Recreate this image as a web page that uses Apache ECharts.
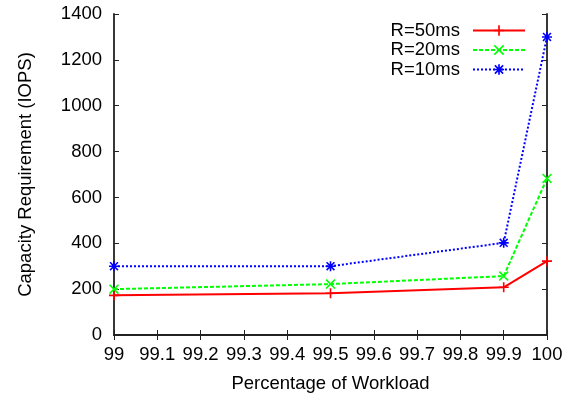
<!DOCTYPE html>
<html>
<head>
<meta charset="utf-8">
<script src="https://cdn.jsdelivr.net/npm/echarts@6/dist/echarts.min.js"></script>
<style>html,body{margin:0;padding:0;background:#fff}#c{width:574px;height:398px}</style>
</head>
<body>
<div id="c"></div>
<script>
const xValues = [99, 99.5, 99.9, 100];
const seriesNames = ['R=50ms', 'R=20ms', 'R=10ms'];
const r50 = [173, 182, 208, 322];
const r20 = [200, 222, 257, 683];
const r10 = [300, 300, 402, 1300];

const FONT = '"Liberation Sans", Arial, sans-serif';
const FS = 18.5;
const PLUS = 'path://M0,4.2H10V5.8H0Z M4.2,0H5.8V10H4.2Z';
const CROSS = 'path://M0,1.1L1.1,0L10,8.9L8.9,10Z M8.9,0L10,1.1L1.1,10L0,8.9Z';
const STAR = 'path://M0,4.2H10V5.8H0Z M4.2,0H5.8V10H4.2Z M0.5,1.6L1.6,0.5L9.5,8.4L8.4,9.5Z M8.4,0.5L9.5,1.6L1.6,9.5L0.5,8.4Z';

function pairs(ys){ return xValues.map((x,i)=>[x, ys[i]]); }
const fmt = v => String(Math.round(v*10)/10);

const axisLine = {show:true, lineStyle:{color:'#222', width:1.8}};
const tick = {show:true, inside:true, length:5, lineStyle:{color:'#222', width:1}};

const chart = echarts.init(document.getElementById('c'));
chart.setOption({
  animation:false,
  backgroundColor:'#fff',
  textStyle:{fontFamily:FONT},
  grid:{left:114, right:27, top:14, bottom:61, containLabel:false},
  legend:{
    orient:'vertical', right:43, top:16, align:'right',
    itemWidth:52, itemHeight:13, itemGap:0.5,
    textStyle:{fontFamily:FONT, fontSize:FS, color:'#000', padding:[0,8,0,0]},
    data:seriesNames
  },
  xAxis:[
    {type:'value', min:99, max:100, interval:0.1, position:'bottom',
     axisLine:axisLine, axisTick:tick, splitLine:{show:false},
     axisLabel:{fontFamily:FONT, fontSize:FS, color:'#000', margin:10, formatter:fmt},
     name:'Percentage of Workload', nameLocation:'middle', nameGap:39,
     nameTextStyle:{fontFamily:FONT, fontSize:FS, color:'#000'}},
    {type:'value', min:99, max:100, interval:0.1, position:'top',
     axisLine:axisLine, axisTick:tick, splitLine:{show:false}, axisLabel:{show:false}}
  ],
  yAxis:[
    {type:'value', min:0, max:1400, interval:200, position:'left',
     axisLine:axisLine, axisTick:tick, splitLine:{show:false},
     axisLabel:{fontFamily:FONT, fontSize:FS, color:'#000', margin:12, formatter:v=>String(v)},
     name:'Capacity Requirement (IOPS)', nameLocation:'middle', nameGap:79,
     nameTextStyle:{fontFamily:FONT, fontSize:FS, color:'#000'}},
    {type:'value', min:0, max:1400, interval:200, position:'right',
     axisLine:axisLine, axisTick:tick, splitLine:{show:false}, axisLabel:{show:false}}
  ],
  series:[
    {name:seriesNames[0], type:'line', data:pairs(r50), symbol:PLUS, symbolSize:10, clip:false,
     color:'#ff0000', lineStyle:{color:'#ff0000', width:2, type:'solid'}, itemStyle:{color:'#ff0000'}},
    {name:seriesNames[1], type:'line', data:pairs(r20), symbol:CROSS, symbolSize:10, clip:false,
     color:'#00ff00', lineStyle:{color:'#00ff00', width:2, type:[4,2]}, itemStyle:{color:'#00ff00'}},
    {name:seriesNames[2], type:'line', data:pairs(r10), symbol:STAR, symbolSize:10, clip:false,
     color:'#0000ff', lineStyle:{color:'#0000ff', width:2, type:[2,2]}, itemStyle:{color:'#0000ff'}}
  ]
});
</script>
</body>
</html>
